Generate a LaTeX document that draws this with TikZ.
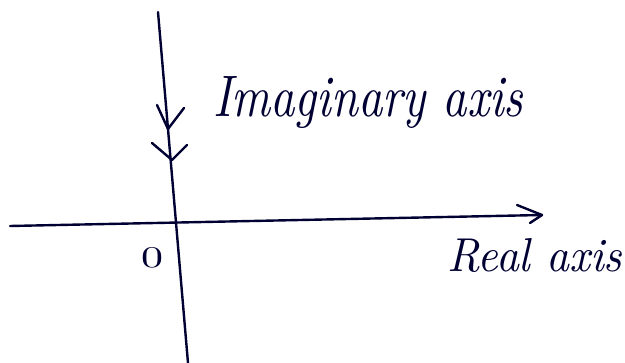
\documentclass[tikz,border=0pt]{standalone}
\usepackage{graphicx}
\begin{document}
\begin{tikzpicture}[x=1pt,y=-1pt,
  pen/.style={draw=black!80!blue,line width=2.4pt,line cap=round,line join=round},
  hand/.style={text=black!80!blue,inner sep=0pt,font=\itshape}]
\useasboundingbox (0,0) rectangle (625,363);
% axes end points
\coordinate (imtop) at (158,12);
\coordinate (imbot) at (188,363);
\coordinate (releft) at (10,226);
\coordinate (reright) at (542,215);
\draw[pen] (imtop) -- (imbot);
\draw[pen] (releft) -- (reright);
% arrow marks on imaginary axis
\coordinate (v1) at (168,129);
\coordinate (v2) at (172,160);
\draw[pen] (157,105) -- (v1) -- (184,108);
\draw[pen] (152,143) -- (v2) -- (187,145);
% arrow head on real axis
\draw[pen] (517,205) -- (reright) -- (530,223);
% labels
\node[hand,anchor=west] (imlab) at (213,103) {\resizebox{310pt}{40pt}{Imaginary axis}};
\node[hand] (origin) at (152,258) {\resizebox{22pt}{20pt}{\upshape 0}};
\node[hand,anchor=west] (relab) at (447,256) {\resizebox{175pt}{33pt}{Real axis}};
\end{tikzpicture}
\end{document}
